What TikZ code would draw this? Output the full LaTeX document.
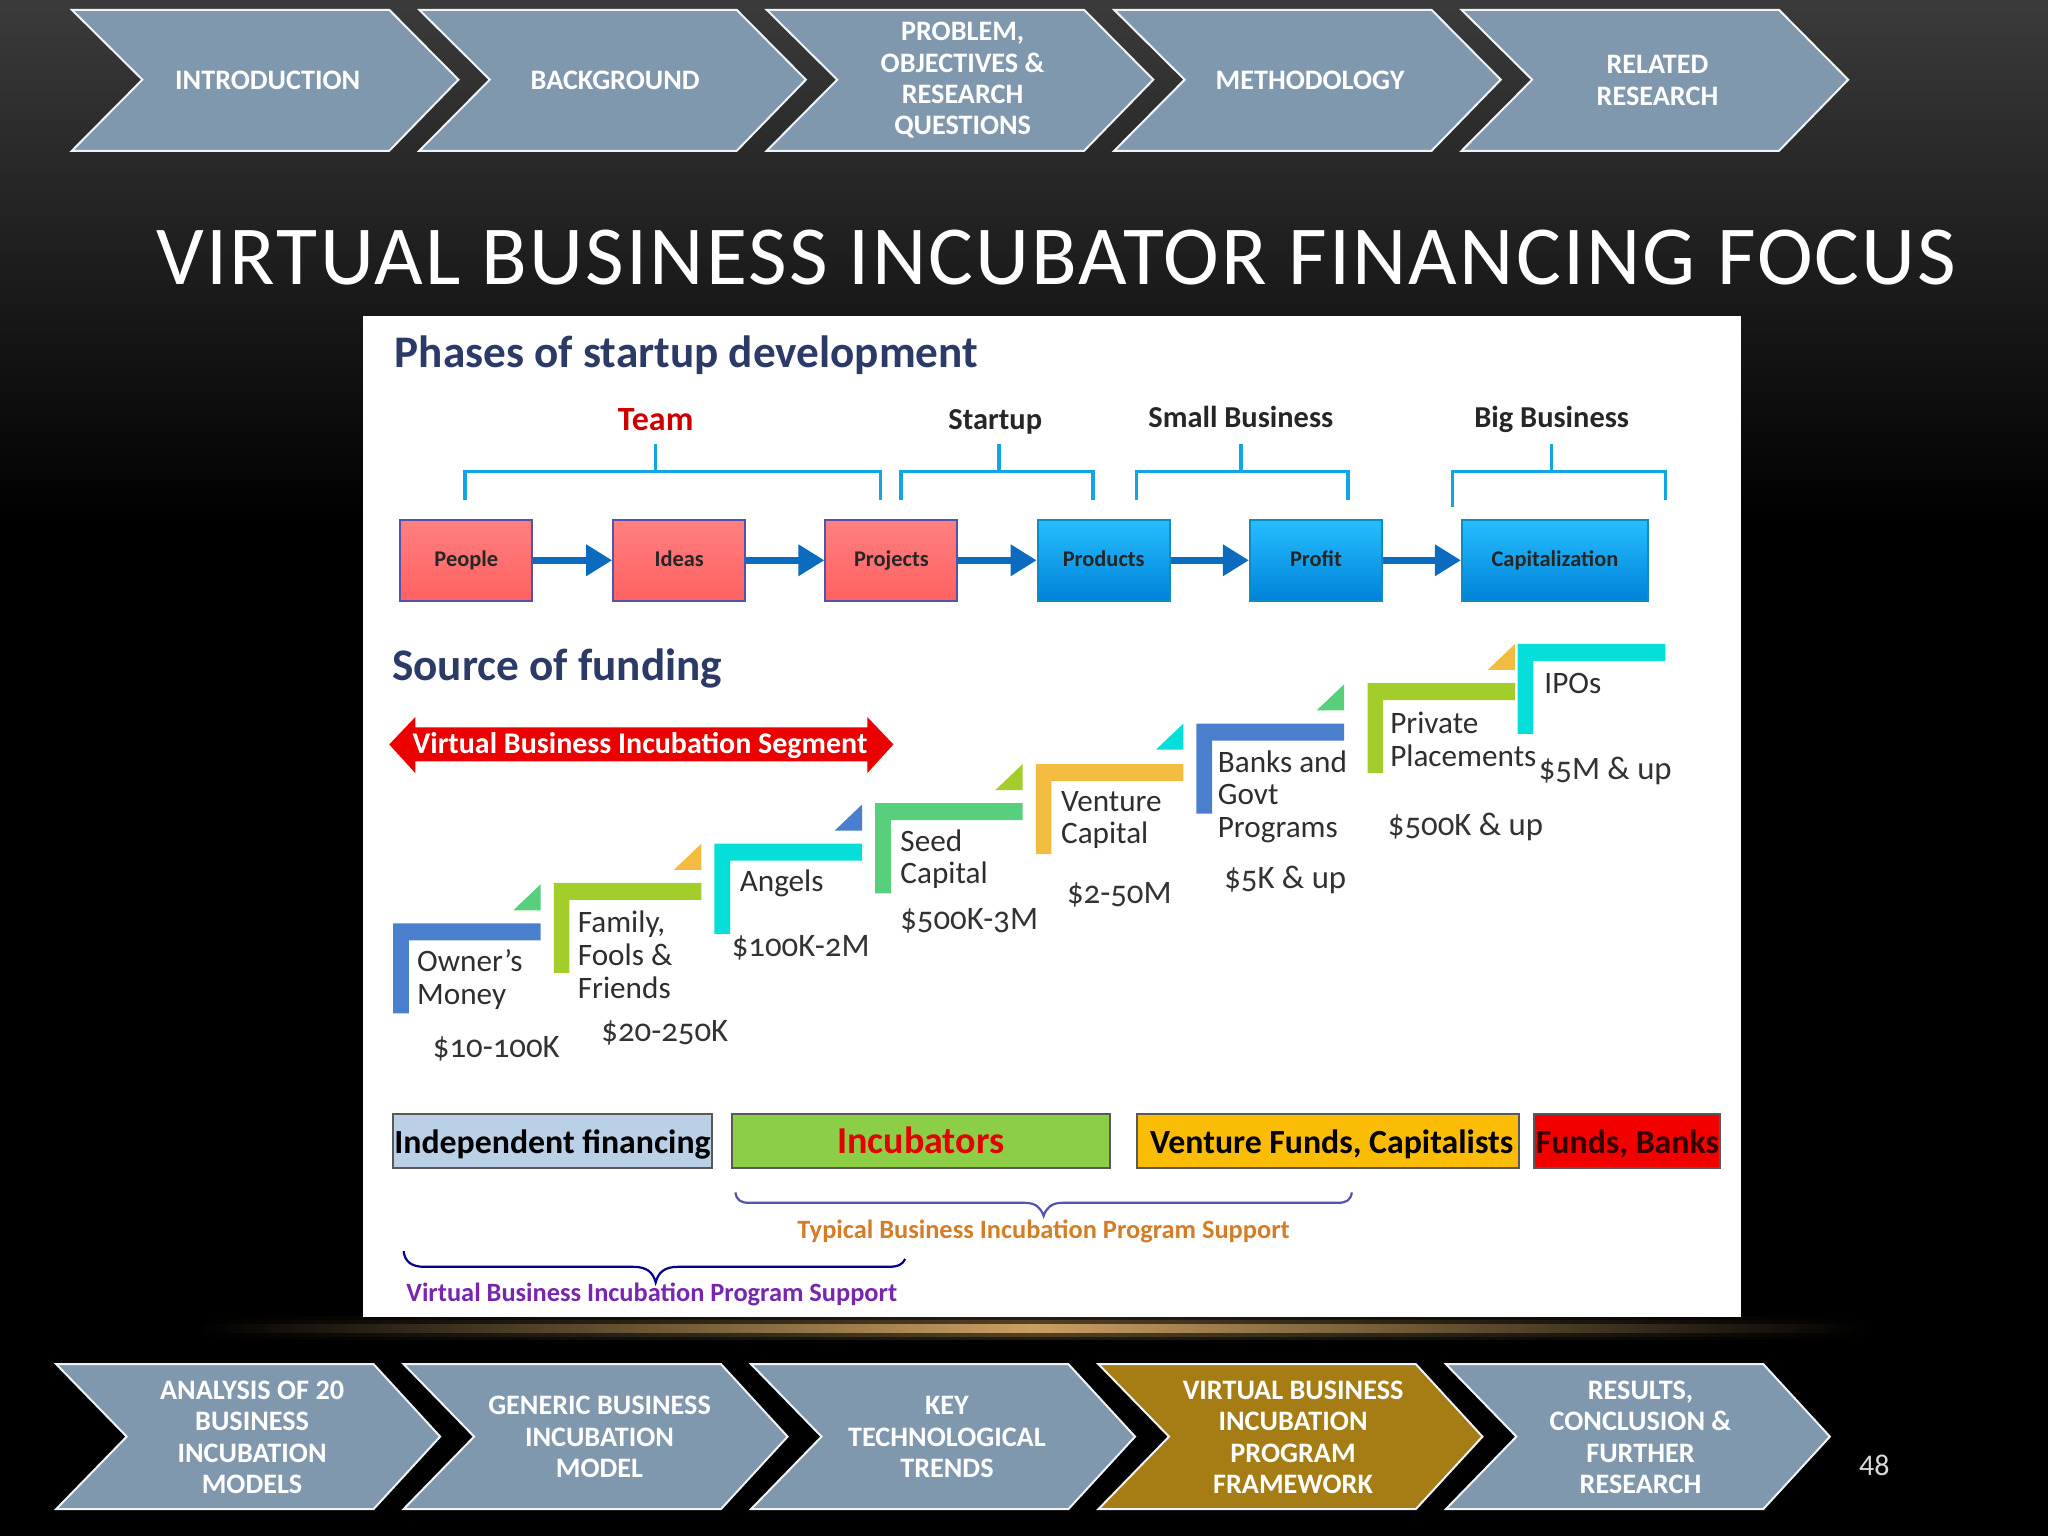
\documentclass[tikz,border=0pt]{standalone}
\usepackage{fontspec}
\setmainfont{Carlito}
\usetikzlibrary{arrows.meta}
\definecolor{chevblue}{HTML}{7F98AE}
\definecolor{chevgold}{HTML}{A67C14}
\definecolor{headnavy}{HTML}{2B3A67}
\definecolor{stepblue}{HTML}{4A7FCE}
\definecolor{steplime}{HTML}{A2CD2A}
\definecolor{stepcyan}{HTML}{06DFD9}
\definecolor{stepgreen}{HTML}{57CF7D}
\definecolor{stepyellow}{HTML}{F3BB3F}
\definecolor{linkblue}{HTML}{0B6CBF}
\definecolor{brackblue}{HTML}{12A5E3}
\definecolor{glowgold}{HTML}{C9A063}
\tikzset{
  chevtext/.style={text=white, align=center, yshift=-0.3pt, font=\fontsize{14.1}{15.7}\selectfont\bfseries},
  chevshape/.style={draw=white!88!chevblue, line width=1pt, fill=chevblue, miter limit=10},
  phasered/.style={draw=blue!35!gray, line width=1pt, top color=red!50!white, bottom color=red!62!white, text=black!85, font=\fontsize{11.2}{12}\selectfont\bfseries, minimum height=40.5pt, inner sep=0pt, text height=8pt, text depth=1.5pt},
  phaseblue/.style={phasered, draw=brackblue!85!black, top color=blue!0!cyan!70!blue!85!white, bottom color=cyan!60!blue!85!black},
  phaselink/.style={draw=linkblue, line width=3.6pt, -{Triangle[width=15pt,length=13pt]}},
  bracket/.style={draw=brackblue, line width=1.8pt},
  grouplabel/.style={font=\fontsize{15.2}{17}\selectfont\bfseries, text=black!85},
  steptext/.style={align=left, anchor=west, text=black!82, font=\fontsize{15.6}{16.3}\selectfont},
  amount/.style={text=black!80, font=\fontsize{16.4}{18}\selectfont\addfontfeatures{Numbers=OldStyle}},
  bar/.style={draw=black!65, line width=1pt, minimum height=27pt, inner sep=0pt, font=\fontsize{16.9}{19}\selectfont\bfseries, text height=13.5pt, text depth=1pt},
  curly/.style={line width=1.1pt},
}
\begin{document}
\begin{tikzpicture}[x=0.65306pt, y=-0.6530pt]
  \useasboundingbox (0,0) rectangle (1568,1176);

  % Fondo
  \shade[top color=black!77, bottom color=black] (0,0) rectangle (1568,400);
  \fill[black] (0,400) rectangle (1568,1176);
  \foreach \ya/\yb/\pct in {1008/1026/18,1011/1023/40,1014/1020/100}
    \shade[left color=black, right color=black, middle color=glowgold!\pct!black] (150,\ya) rectangle (1430,\yb);

  % Flechas de arriba
  \foreach \x in {55,321,587,853,1119}
    \draw[chevshape] (\x,7.5) -- (\x+243,7.5) -- (\x+296,61) -- (\x+243,115.5) -- (\x,115.5) -- (\x+54,61) -- cycle;
  \node[chevtext] (intro) at (205,61) {INTRODUCTION};
  \node[chevtext] (background) at (471,61) {BACKGROUND};
  \node[chevtext] (problem) at (737,61) {PROBLEM,\\OBJECTIVES \&\\RESEARCH\\QUESTIONS};
  \node[chevtext] (method) at (1003,61) {METHODOLOGY};
  \node[chevtext] (related) at (1269,61) {RELATED\\RESEARCH};

  % Titulo
  \node[text=white, font=\fontsize{42}{45}\selectfont\addfontfeatures{LetterSpace=2.6}] (title) at (809,197) {VIRTUAL BUSINESS INCUBATOR FINANCING FOCUS};

  % Flechas de abajo
  \foreach \x/\col in {43/chevblue,309/chevblue,575/chevblue,841/chevgold,1107/chevblue}
    \draw[chevshape, fill=\col] (\x,1044.5) -- (\x+243,1044.5) -- (\x+294,1100) -- (\x+243,1155.5) -- (\x,1155.5) -- (\x+54,1100) -- cycle;
  \node[chevtext] (analysis) at (193,1100) {ANALYSIS OF 20\\BUSINESS\\INCUBATION\\MODELS};
  \node[chevtext] (generic) at (459,1100) {GENERIC BUSINESS\\INCUBATION\\MODEL};
  \node[chevtext] (trends) at (725,1100) {KEY\\TECHNOLOGICAL\\TRENDS};
  \node[chevtext] (framework) at (990,1100) {VIRTUAL BUSINESS\\INCUBATION\\PROGRAM\\FRAMEWORK};
  \node[chevtext] (results) at (1256,1100) {RESULTS,\\CONCLUSION \&\\FURTHER\\RESEARCH};
  \node[text=white!85!black, font=\fontsize{15}{17}\selectfont] (pagenum) at (1435,1122) {48};

  % Panel
  \fill[white] (278,242) rectangle (1333,1008.5);
  \node[anchor=west, inner sep=0pt, text=headnavy, font=\fontsize{22.6}{25}\selectfont\bfseries] (phases) at (302,272) {Phases of startup development};
  \node[anchor=west, inner sep=0pt, text=headnavy, font=\fontsize{22.6}{25}\selectfont\bfseries] (source) at (300,512) {Source of funding};

  % Fases
  \node[grouplabel, text=red!80!black, font=\fontsize{17}{19}\selectfont\bfseries] (team) at (502,321) {Team};
  \node[grouplabel] (startup) at (762,323) {Startup};
  \node[grouplabel] (small) at (950,319) {Small Business};
  \node[grouplabel] (big) at (1188,321) {Big Business};
  \draw[bracket] (356,383) -- (356,361) -- (674,361) -- (674,383) (502,340) -- (502,361);
  \draw[bracket] (690,383) -- (690,361) -- (837,361) -- (837,383) (765,340) -- (765,361);
  \draw[bracket] (870,383) -- (870,361) -- (1032,361) -- (1032,383) (950,340) -- (950,361);
  \draw[bracket] (1112,388) -- (1112,361) -- (1275,361) -- (1275,383) (1188,340) -- (1188,361);

  \node[phasered, minimum width=66pt] (people) at (357,429) {People};
  \node[phasered, minimum width=66pt] (ideas) at (520,429) {Ideas};
  \node[phasered, minimum width=66pt] (projects) at (682.5,429) {Projects};
  \node[phaseblue, minimum width=66pt] (products) at (845,429) {Products};
  \node[phaseblue, minimum width=66pt] (profit) at (1007.5,429) {Profit};
  \node[phaseblue, minimum width=93pt] (capital) at (1190.5,429) {Capitalization};
  \draw[phaselink] (people) -- (ideas);
  \draw[phaselink] (ideas) -- (projects);
  \draw[phaselink] (projects) -- (products);
  \draw[phaselink] (products) -- (profit);
  \draw[phaselink] (profit) -- (capital);

  % Segmento
  \fill[red!92!black] (298,570) -- (318,549) -- (318,557) -- (664,557) -- (664,549) -- (684,570) -- (664,592) -- (664,583) -- (318,583) -- (318,592) -- cycle;
  \node[text=white, font=\fontsize{15}{18}\selectfont\bfseries] (segment) at (490,571) {Virtual Business Incubation Segment};

  % Escalones
  \foreach \x/\y/\col in {301/707/stepblue,424/676/steplime,547/646/stepcyan,670/615/stepgreen,793/585/stepyellow,916/554/stepblue,1047/523/steplime,1162/493/stepcyan}
    \fill[\col] (\x,\y) -- (\x+113,\y) -- (\x+113,\y+13) -- (\x+12,\y+13) -- (\x+12,\y+69) -- (\x,\y+69) -- cycle;
  \foreach \x/\y/\col in {414/677/stepgreen,537/646/stepyellow,660/616/stepblue,783/585/steplime,906/554/stepcyan,1029/524/stepgreen,1160/493/stepyellow}
    \fill[\col] (\x,\y) -- (\x,\y+20) -- (\x-21,\y+20) -- cycle;

  \node[steptext] (owner) at (314,750) {Owner's\\Money};
  \node[steptext] (family) at (437,731) {Family,\\Fools \&\\Friends};
  \node[steptext] (angels) at (561,676) {Angels};
  \node[steptext] (seed) at (684,658) {Seed\\Capital};
  \node[steptext] (venture) at (807,628) {Venture\\Capital};
  \node[steptext] (banks) at (927,610) {Banks and\\Govt\\Programs};
  \node[steptext] (private) at (1059,566) {Private\\Placements};
  \node[steptext] (ipos) at (1177,523) {IPOs};

  \node[amount] (amountA) at (380,803) {\$10-100K};
  \node[amount] (amountB) at (509,791) {\$20-250K};
  \node[amount] (amountC) at (613,726) {\$100K-2M};
  \node[amount] (amountD) at (742,705) {\$500K-3M};
  \node[amount] (amountE) at (857,685) {\$2-50M};
  \node[amount] (amountF) at (984,674) {\$5K \& up};
  \node[amount] (amountG) at (1122,633) {\$500K \& up};
  \node[amount] (amountH) at (1229,590) {\$5M \& up};

  % Barras
  \node[bar, fill={rgb,255:red,185;green,208;blue,230}, text=black, minimum width=159pt] (independent) at (423,874) {Independent financing};
  \node[bar, fill={rgb,255:red,140;green,207;blue,71}, text=red!90!black, minimum width=189pt, font=\fontsize{19}{21}\selectfont\bfseries] (incubators) at (705,874) {Incubators};
  \node[bar, fill={rgb,255:red,251;green,188;blue,5}, text=black, minimum width=191pt] (funds) at (1016.5,874) {\hspace*{4pt}Venture Funds, Capitalists};
  \node[bar, fill=red!95!black, text=black!80!red, minimum width=93pt] (banksbar) at (1246,874) {Funds, Banks};

  % Llaves
  \coordinate (typL) at (563,913);
  \coordinate (typR) at (1035,913);
  \coordinate (typT) at (799,931);
  \coordinate (virL) at (309,958);
  \coordinate (virR) at (693,964);
  \coordinate (virT) at (502,982);
  \draw[curly, draw=blue!35!gray] (typL) .. controls (564,919) and (567,921) .. (574,921) -- (785,921) .. controls (793,921) and (797,925) .. (typT) .. controls (801,925) and (805,921) .. (813,921) -- (1024,921) .. controls (1031,921) and (1034,919) .. (typR);
  \draw[curly, draw=blue!55!black] (virL) .. controls (310,966) and (315,970) .. (325,970) -- (485,970) .. controls (495,970) and (500,974) .. (virT) .. controls (504,974) and (509,970) .. (519,970) -- (680,970) .. controls (688,970) and (691,968) .. (virR);
  \node[text=orange!80!black!85!white, font=\fontsize{13.2}{15}\selectfont\bfseries] (typical) at (799,943) {Typical Business Incubation Program Support};
  \node[text=violet!75!blue!85!white, font=\fontsize{13.2}{15}\selectfont\bfseries] (virtual) at (499,991) {Virtual Business Incubation Program Support};
\end{tikzpicture}
\end{document}
